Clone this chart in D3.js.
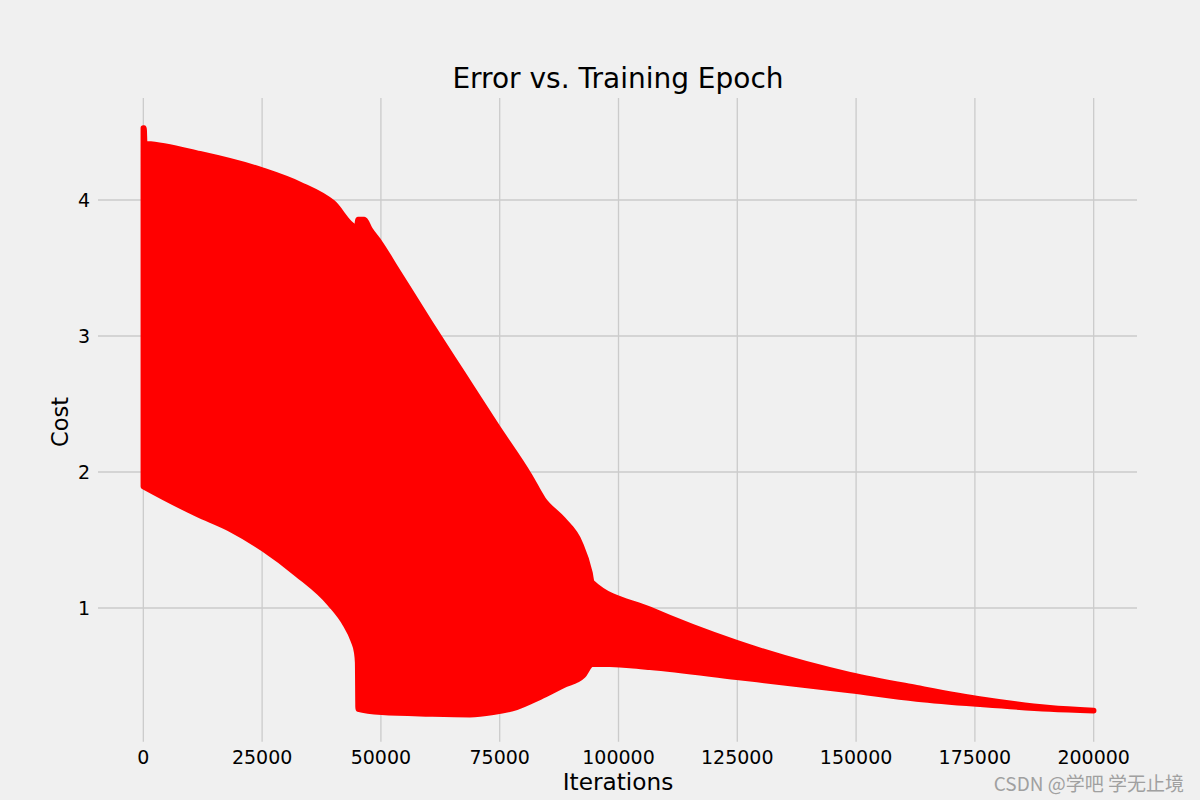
<!DOCTYPE html>
<html>
<head>
<meta charset="utf-8">
<script src="https://cdn.jsdelivr.net/npm/d3@7"></script>
<style>
  body { margin: 0; background: #f0f0f0; }
  svg { display: block; font-family: "DejaVu Sans", sans-serif; }
</style>
</head>
<body>
<svg id="chart" width="1200" height="800"></svg>
<script>
// envelope of the oscillating cost curve
// (both envelopes have the same number of points, they are drawn as one area)
var upperIter = [0, 150, 300, 780, 11930, 25040, 32970, 39910, 44900, 45200, 46500, 47700,
                 49800, 53320, 60320, 67330, 74360, 81360, 84160, 88370, 91880, 93990, 94400,
                 106600, 124850, 148700, 162720, 176740, 190770, 200000];
var upperCost = [4.53, 4.53, 4.415, 4.414, 4.34, 4.22, 4.115, 3.98, 3.80, 3.857, 3.857, 3.785,
                 3.686, 3.49, 3.10, 2.72, 2.34, 1.97, 1.80, 1.65, 1.48, 1.26, 1.19,
                 0.99, 0.745, 0.51, 0.414, 0.328, 0.267, 0.247];
var lowerIter = [0, 4210, 11240, 18240, 25250, 32280, 39280, 42440, 44180, 44900, 45100, 45200,
                 50160, 60320, 68740, 73640, 78560, 83470, 88370, 92580, 93990, 94400, 102400,
                 106600, 124850, 148700, 162720, 176740, 190770, 200000];
var lowerCost = [1.893, 1.814, 1.691, 1.581, 1.434, 1.25, 1.03, 0.883, 0.76, 0.674, 0.60, 0.257,
                 0.233, 0.221, 0.216, 0.233, 0.27, 0.344, 0.43, 0.503, 0.577, 0.588, 0.577,
                 0.564, 0.491, 0.393, 0.331, 0.29, 0.2575, 0.244];

var xTicks = [0, 25000, 50000, 75000, 100000, 125000, 150000, 175000, 200000];
var yTicks = [1, 2, 3, 4];

var svg = d3.select("#chart");

var x = d3.scaleLinear().domain([-10000, 210000]).range([95.8, 1141.2]);
var y = d3.scaleLinear().domain([0.017, 4.75]).range([741.7, 98]);

// grid
svg.append("g").selectAll("line").data(xTicks).enter().append("line")
    .attr("x1", function(d){ return x(d); })
    .attr("x2", function(d){ return x(d); })
    .attr("y1", 98).attr("y2", 741.7)
    .attr("stroke", "#cbcbcb").attr("stroke-width", 1.3);

svg.append("g").selectAll("line").data(yTicks).enter().append("line")
    .attr("x1", 98).attr("x2", 1137)
    .attr("y1", function(d){ return y(d); })
    .attr("y2", function(d){ return y(d); })
    .attr("stroke", "#cbcbcb").attr("stroke-width", 1.3);

// tick labels
svg.append("g").selectAll("text").data(xTicks).enter().append("text")
    .attr("x", function(d){ return x(d); })
    .attr("y", 764)
    .attr("text-anchor", "middle")
    .attr("font-size", "19px")
    .attr("fill", "#000")
    .text(function(d){ return d; });

svg.append("g").selectAll("text").data(yTicks).enter().append("text")
    .attr("x", 90)
    .attr("y", function(d){ return y(d) + 7; })
    .attr("text-anchor", "end")
    .attr("font-size", "19px")
    .attr("fill", "#000")
    .text(function(d){ return d; });

// the cost band
var band = d3.area()
    .curve(d3.curveMonotoneX)
    .x1(function(i){ return x(upperIter[i]); })
    .y1(function(i){ return y(upperCost[i]); })
    .x0(function(i){ return x(lowerIter[i]); })
    .y0(function(i){ return y(lowerCost[i]); });

svg.append("path")
    .attr("d", band(d3.range(upperIter.length)))
    .attr("fill", "#ff0000")
    .attr("stroke", "#ff0000")
    .attr("stroke-width", 5.5)
    .attr("stroke-linejoin", "round")
    .attr("stroke-linecap", "round");

// titles
svg.append("text")
    .attr("x", 618).attr("y", 88)
    .attr("text-anchor", "middle")
    .attr("font-size", "28px")
    .text("Error vs. Training Epoch");

svg.append("text")
    .attr("x", 618).attr("y", 790)
    .attr("text-anchor", "middle")
    .attr("font-size", "23.2px")
    .text("Iterations");

svg.append("text")
    .attr("transform", "translate(68,422) rotate(-90)")
    .attr("text-anchor", "middle")
    .attr("font-size", "22.6px")
    .text("Cost");

// watermark
svg.append("text")
    .attr("x", 1184).attr("y", 791)
    .attr("text-anchor", "end")
    .attr("font-size", "19px")
    .attr("font-family", "'Noto Sans CJK SC', 'DejaVu Sans', sans-serif")
    .attr("fill", "#a0a0a0")
    .text("CSDN @学吧 学无止境");
</script>
</body>
</html>
